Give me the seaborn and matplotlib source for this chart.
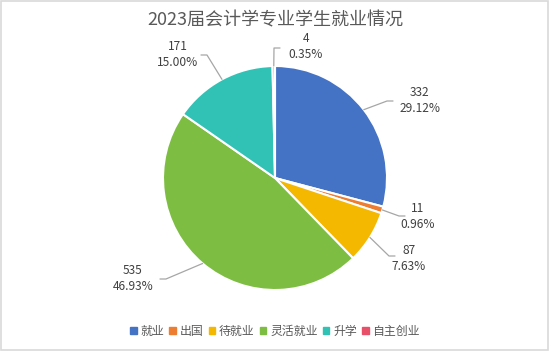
import numpy as np
import matplotlib
matplotlib.use('Agg')
import matplotlib.pyplot as plt
from matplotlib.patches import Rectangle
import seaborn as sns

# dati
categorie = ['就业', '出国', '待就业', '灵活就业', '升学', '自主创业']
valori = [332, 11, 87, 535, 171, 4]
percentuali = ['29.12%', '0.96%', '7.63%', '46.93%', '15.00%', '0.35%']
titolo = '2023届会计学专业学生就业情况'

colori = sns.color_palette(['#4472C4', '#ED7D31', '#F5B800', '#7DBE42', '#31C2B5', '#E8506A'])

sns.set_theme(style='white')
plt.rcParams['font.family'] = ['Noto Sans CJK SC', 'DejaVu Sans']

W, H = 550, 351
fig = plt.figure(figsize=(W / 100, H / 100), dpi=100)
ax = fig.add_axes([0, 0, 1, 1])

cx, cy, r = 275, H - 178, 112
wedges, _ = ax.pie(valori, colors=colori, startangle=90, counterclock=False,
                   center=(cx, cy), radius=r,
                   wedgeprops=dict(edgecolor='white', linewidth=1.5))
ax.set_xlim(0, W)
ax.set_ylim(0, H)
ax.set_aspect('equal')
ax.axis('off')

# posizioni delle etichette (pixel, y dall'alto) e gomito della linea guida
pos_testo = [(420, 101), (418, 217), (409, 258), (133, 278), (178, 55), (306, 46)]
gomito = [(393, 101), (405, 216), (395, 256), (160, 279), (201, 55), (280, 48)]

for w, v, p, (tx, ty), (gx, gy) in zip(wedges, valori, percentuali, pos_testo, gomito):
    ang = np.deg2rad((w.theta1 + w.theta2) / 2)
    ex, ey = cx + r * np.cos(ang), cy + r * np.sin(ang)
    lx = gx + (6 if gx < cx else -6)
    ax.plot([ex, lx, gx], [ey, H - gy, H - gy], color='#A6A6A6', lw=0.9)
    ax.text(tx, H - ty, f'{v}\n{p}', ha='center', va='center',
            fontsize=8.6, color='#404040', linespacing=1.3)

ax.text(W / 2, H - 20, titolo, ha='center', va='center', fontsize=13, color='#595959')

handles = [Rectangle((0, 0), 1, 1, color=c) for c in colori]
fig.legend(handles, categorie, loc='center', bbox_to_anchor=(0.5, 1 - 331 / H),
           ncol=6, frameon=False, fontsize=8.6, handlelength=0.55, handleheight=0.55,
           handletextpad=0.3, columnspacing=0.45, labelcolor='#595959')

# bordo del grafico
fig.patches.append(Rectangle((0.001, 0.003), 0.996, 0.995, transform=fig.transFigure,
                             fill=False, edgecolor='#D9D9D9', lw=1.2))

fig.savefig('out.png', dpi=100)
